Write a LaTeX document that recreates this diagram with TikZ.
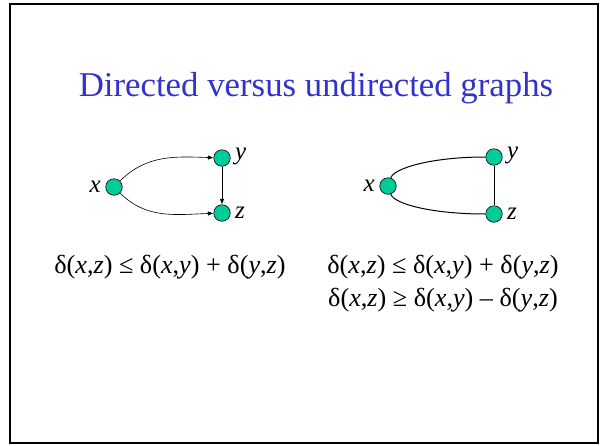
\documentclass[tikz,border=0pt]{standalone}
\usepackage{fontspec}
\setmainfont{Liberation Serif}
\usepackage{tikz}
\usetikzlibrary{arrows.meta}

\definecolor{titleblue}{RGB}{51,51,204}
\definecolor{vertexgreen}{RGB}{0,204,153}

\tikzset{
    vertex/.style={circle, draw=black, line width=0.6pt, fill=vertexgreen, minimum size=16.5pt, inner sep=0pt},
    vlabel/.style={font=\fontsize{25}{30}\selectfont\itshape, inner sep=0pt},
    formula/.style={font=\fontsize{26.2}{30}\selectfont, inner sep=0pt},
    darc/.style={line width=0.6pt, -{Triangle[length=5pt, width=4pt]}, shorten >=0.5pt},
    uarc/.style={line width=1pt}
}

\begin{document}
\begin{tikzpicture}[x=1pt, y=-1pt]
    \useasboundingbox (0,0) rectangle (600,445);
    \draw[line width=2pt] (10,4) rectangle (598,443);

    % Title
    \node[font=\fontsize{34.8}{40}\selectfont, text=titleblue, inner sep=0pt] (title) at (316,88) {Directed versus undirected graphs};

    % Directed graph
    \node[vertex] (dx) at (114,187) {};
    \node[vertex] (dy) at (222,158) {};
    \node[vertex] (dz) at (222,213) {};
    \node[vlabel, anchor=east] (dxl) at (101,187) {x};
    \node[vlabel, anchor=west] (dyl) at (235,156) {y};
    \node[vlabel, anchor=west] (dzl) at (235,213) {z};
    \draw[darc] (dx) to[out=45, in=178] (dy);
    \draw[darc] (dx) to[out=-45, in=182] (dz);
    \draw[darc] (dy) -- (dz);

    % Undirected graph
    \node[vertex] (ux) at (388,186) {};
    \node[vertex] (uy) at (494,157) {};
    \node[vertex] (uz) at (494,214) {};
    \node[vlabel, anchor=east] (uxl) at (375,186) {x};
    \node[vlabel, anchor=west] (uyl) at (507,155) {y};
    \node[vlabel, anchor=west] (uzl) at (507,214) {z};
    \draw[uarc] (ux) .. controls +(6,-18) and +(-62,0) .. (uy);
    \draw[uarc] (ux) .. controls +(6,18) and +(-62,0) .. (uz);
    \draw[uarc] (uy) -- (uz);

    % Triangle inequalities
    \node[formula] (dineq) at (170,267) {δ(\textit{x},\textit{z}) ≤ δ(\textit{x},\textit{y}) + δ(\textit{y},\textit{z})};
    \node[formula] (uineq) at (443,267) {δ(\textit{x},\textit{z}) ≤ δ(\textit{x},\textit{y}) + δ(\textit{y},\textit{z})};
    \node[formula] (ulower) at (443,300) {δ(\textit{x},\textit{z}) ≥ δ(\textit{x},\textit{y}) – δ(\textit{y},\textit{z})};
\end{tikzpicture}
\end{document}
